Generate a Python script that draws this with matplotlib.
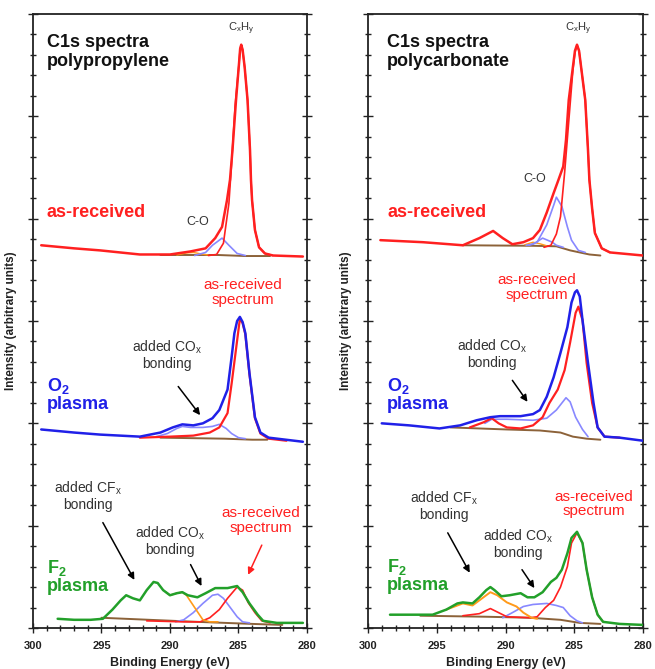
import matplotlib
matplotlib.use('Agg')
import matplotlib.pyplot as plt
from matplotlib.ticker import MultipleLocator, NullFormatter

plt.rcParams['font.family'] = 'Liberation Sans'
plt.rcParams['mathtext.default'] = 'regular'

# ---- data (binding energy in eV, intensity in arbitrary units) ----
xticks = [300, 295, 290, 285, 280]
titles = ['C1s spectra\npolypropylene', 'C1s spectra\npolycarbonate']

# polypropylene, as-received
pp_ar_be = [299.4, 297.0, 295.1, 292.2, 290.0, 288.5, 287.4, 286.7, 286.2, 285.84, 285.62, 285.44, 285.18,
            284.96, 284.88, 284.80, 284.70, 284.55, 284.34, 284.16, 284.09, 284.01, 283.80, 283.50, 283.07, 282.48, 280.3]
pp_ar_i = [3.74, 3.71, 3.69, 3.65, 3.65, 3.68, 3.71, 3.81, 3.92, 4.18, 4.38, 4.67, 5.16,
           5.52, 5.66, 5.70, 5.65, 5.48, 5.16, 4.67, 4.38, 4.18, 3.89, 3.72, 3.66, 3.64, 3.63]
pp_ch_be = [287.2, 286.6, 286.1, 285.7, 285.5, 285.25, 284.96, 284.88, 284.80, 284.70, 284.55, 284.34, 284.16,
            284.09, 284.01, 283.80, 283.50, 283.07, 282.5]
pp_ch_i = [3.64, 3.65, 3.76, 4.15, 4.55, 5.10, 5.52, 5.66, 5.70, 5.65, 5.48, 5.16, 4.67,
           4.38, 4.18, 3.89, 3.72, 3.66, 3.64]
pp_co_be = [288.2, 287.4, 286.9, 286.2, 285.7, 285.1, 284.5]
pp_co_i = [3.64, 3.67, 3.74, 3.81, 3.74, 3.66, 3.64]
pp_or_be = [289.5, 288.8, 288.3, 287.7, 287.2]
pp_or_i = [3.645, 3.665, 3.67, 3.655, 3.645]
pp_bg_be = [290.7, 286.5, 284.5, 282.7]
pp_bg_i = [3.645, 3.645, 3.635, 3.635]

# polypropylene, O2 plasma
pp_o2_be = [299.4, 297.0, 295.1, 292.2, 290.7, 289.8, 289.1, 288.3, 287.6, 286.9, 286.4, 285.8, 285.5, 285.3,
            285.1, 284.9, 284.7, 284.5, 284.2, 283.8, 283.4, 282.8, 280.3]
pp_o2_i = [1.94, 1.91, 1.89, 1.87, 1.91, 1.96, 1.99, 1.98, 2.00, 2.05, 2.13, 2.33, 2.65, 2.88,
           3.00, 3.04, 2.99, 2.88, 2.49, 2.06, 1.91, 1.86, 1.82]
pp_o2_ref_be = [292.2, 290.0, 288.3, 287.1, 286.4, 285.8, 285.5, 285.1, 284.9, 284.7, 284.5, 284.2, 283.8,
                283.4, 282.8, 281.5]
pp_o2_ref_i = [1.86, 1.87, 1.88, 1.91, 1.96, 2.10, 2.39, 2.81, 3.02, 2.98, 2.87, 2.48, 2.05,
               1.90, 1.85, 1.83]
pp_o2_cmp_be = [291.0, 290.2, 289.5, 289.1, 288.5, 287.6, 286.9, 286.4, 285.9, 285.5, 285.0, 284.5]
pp_o2_cmp_i = [1.87, 1.90, 1.95, 1.97, 1.96, 1.96, 1.97, 1.99, 1.95, 1.90, 1.86, 1.85]
pp_o2_bg_be = [290.7, 286.0, 284.0, 282.9]
pp_o2_bg_i = [1.86, 1.85, 1.84, 1.84]

# polypropylene, F2 plasma
pp_f2_be = [298.2, 297.0, 295.8, 294.9, 294.2, 293.6, 293.2, 292.7, 292.2, 291.7, 291.2, 290.9, 290.5, 290.0,
            289.5, 289.1, 288.7, 288.0, 287.4, 286.7, 285.8, 285.1, 284.7, 284.2, 283.6, 283.2, 282.2, 280.3]
pp_f2_i = [0.09, 0.08, 0.08, 0.09, 0.18, 0.27, 0.32, 0.29, 0.27, 0.37, 0.45, 0.44, 0.37, 0.32,
           0.34, 0.35, 0.32, 0.30, 0.34, 0.39, 0.39, 0.41, 0.35, 0.24, 0.13, 0.07, 0.05, 0.05]
pp_f2_or_be = [290.3, 290.0, 289.5, 289.1, 288.8, 288.4, 288.0, 287.6, 287.1, 286.5]
pp_f2_or_i = [0.35, 0.32, 0.34, 0.35, 0.32, 0.24, 0.16, 0.08, 0.06, 0.06]
pp_f2_co_be = [289.6, 289.0, 288.3, 287.6, 286.9, 286.5, 286.1, 285.6, 285.1, 284.7, 284.2]
pp_f2_co_i = [0.06, 0.08, 0.15, 0.24, 0.32, 0.33, 0.29, 0.20, 0.11, 0.06, 0.05]
pp_f2_ref_be = [291.7, 289.0, 287.8, 287.1, 286.4, 285.8, 285.1, 284.7, 284.3, 283.8, 283.3, 282.7]
pp_f2_ref_i = [0.07, 0.06, 0.06, 0.10, 0.18, 0.29, 0.40, 0.37, 0.25, 0.15, 0.07, 0.05]
pp_f2_bg_be = [295.0, 291.5, 288.0, 284.0, 281.8]
pp_f2_bg_i = [0.10, 0.08, 0.06, 0.04, 0.03]

# polycarbonate, as-received
pc_ar_be = [299.1, 296.0, 293.1, 291.9, 290.9, 290.2, 289.5, 288.7, 288.0, 287.5, 287.0, 286.5, 286.2, 285.8,
            285.6, 285.4, 285.1, 284.95, 284.8, 284.65, 284.5, 284.2, 284.0, 283.9, 283.7, 283.5, 283.0, 282.4, 280.0]
pc_ar_i = [3.79, 3.77, 3.74, 3.81, 3.88, 3.81, 3.75, 3.77, 3.81, 3.89, 4.06, 4.25, 4.36, 4.51,
           4.77, 5.16, 5.48, 5.64, 5.70, 5.64, 5.48, 5.16, 4.67, 4.38, 4.10, 3.86, 3.71, 3.67, 3.64]
pc_ch_be = [287.2, 286.7, 286.3, 286.0, 285.7, 285.4, 285.1, 284.95, 284.8, 284.65, 284.5, 284.2, 284.0,
            283.9, 283.7, 283.5, 283.0, 282.4]
pc_ch_i = [3.72, 3.74, 3.85, 4.02, 4.45, 4.95, 5.45, 5.62, 5.70, 5.64, 5.48, 5.16, 4.67,
           4.38, 4.10, 3.86, 3.71, 3.67]
pc_co_be = [288.3, 287.7, 287.0, 286.5, 286.3, 285.9, 285.5, 285.2, 284.7, 284.2]
pc_co_i = [3.74, 3.77, 3.94, 4.13, 4.21, 4.12, 3.92, 3.79, 3.69, 3.67]
pc_co2_be = [288.5, 288.0, 287.3, 286.6, 286.3, 285.8]
pc_co2_i = [3.74, 3.75, 3.81, 3.77, 3.74, 3.72]
pc_or_be = [288.6, 288.0, 287.5, 287.0]
pc_or_i = [3.745, 3.77, 3.755, 3.735]
pc_bg_be = [293.1, 288.0, 286.3, 285.3, 284.6, 283.9, 283.1]
pc_bg_i = [3.74, 3.735, 3.73, 3.69, 3.67, 3.65, 3.64]

# polycarbonate, O2 plasma
pc_o2_be = [299.0, 297.0, 294.8, 293.3, 292.1, 291.1, 290.4, 288.9, 288.0, 287.5, 287.0, 286.5, 286.0, 285.5,
            285.2, 284.95, 284.8, 284.6, 284.4, 284.0, 283.6, 283.3, 282.8, 281.7, 280.0]
pc_o2_i = [2.00, 1.98, 1.95, 1.98, 2.03, 2.06, 2.07, 2.07, 2.09, 2.13, 2.26, 2.45, 2.69, 2.94,
           3.18, 3.28, 3.30, 3.24, 3.01, 2.59, 2.20, 1.96, 1.87, 1.86, 1.83]
pc_o2_ref_be = [292.6, 291.6, 291.0, 290.5, 289.9, 288.9, 288.0, 287.3, 286.8, 286.2, 285.7, 285.3, 284.9,
                284.7, 284.4, 284.1, 283.7, 283.3, 282.8, 281.7]
pc_o2_ref_i = [1.96, 2.01, 2.05, 2.00, 1.96, 1.95, 1.98, 2.06, 2.20, 2.33, 2.52, 2.79, 3.08,
               3.14, 3.01, 2.59, 2.20, 1.96, 1.87, 1.86]
pc_o2_cmp_be = [291.5, 291.0, 289.9, 288.0, 287.0, 286.3, 285.6, 285.3, 284.9, 284.4, 284.0]
pc_o2_cmp_i = [2.00, 2.04, 2.04, 2.03, 2.05, 2.13, 2.25, 2.21, 2.06, 1.94, 1.87]
pc_o2_bg_be = [294.0, 289.9, 287.5, 286.0, 285.1, 284.1, 283.1]
pc_o2_bg_i = [1.96, 1.94, 1.93, 1.91, 1.87, 1.85, 1.84]

# polycarbonate, F2 plasma
pc_f2_be = [298.4, 296.2, 295.3, 294.3, 293.5, 293.1, 292.4, 291.9, 291.4, 291.1, 290.8, 290.3, 289.7, 288.9,
            288.4, 287.9, 287.3, 286.7, 286.3, 285.9, 285.5, 285.2, 284.8, 284.4, 284.1, 283.7, 283.3, 282.9,
            281.7, 280.0]
pc_f2_i = [0.13, 0.13, 0.13, 0.18, 0.24, 0.25, 0.24, 0.30, 0.37, 0.40, 0.37, 0.31, 0.32, 0.34,
           0.30, 0.30, 0.35, 0.45, 0.49, 0.57, 0.73, 0.88, 0.94, 0.83, 0.57, 0.30, 0.13, 0.06,
           0.04, 0.03]
pc_f2_or_be = [294.3, 293.5, 293.1, 292.4, 291.9, 291.1, 290.6, 289.9, 289.2, 288.7, 288.1, 287.7]
pc_f2_or_i = [0.18, 0.22, 0.24, 0.22, 0.27, 0.35, 0.32, 0.25, 0.21, 0.15, 0.10, 0.09]
pc_f2_ref_be = [293.1, 291.9, 291.1, 290.5, 289.9, 288.2, 287.7, 287.1, 286.5, 286.0, 285.5, 285.2, 284.8,
                284.4, 284.1, 283.7, 283.3, 282.9]
pc_f2_ref_i = [0.12, 0.14, 0.19, 0.15, 0.11, 0.10, 0.11, 0.20, 0.27, 0.40, 0.60, 0.83, 0.93,
               0.83, 0.57, 0.30, 0.13, 0.06]
pc_f2_co_be = [290.2, 289.5, 288.7, 288.0, 287.0, 286.3, 285.8, 285.3, 284.8, 284.4]
pc_f2_co_i = [0.10, 0.15, 0.21, 0.23, 0.24, 0.22, 0.20, 0.12, 0.07, 0.05]
pc_f2_bg_be = [296.2, 291.4, 288.2, 286.0, 284.6, 283.1]
pc_f2_bg_i = [0.12, 0.11, 0.10, 0.08, 0.05, 0.04]

# ---- colours ----
RED = '#ff2020'
BLUE = '#2020e8'
LBLUE = '#8888ff'
GREEN = '#22a02a'
ORANGE = '#ff9a1a'
BROWN = '#8c6239'
GREY = '#333333'

fig = plt.figure(figsize=(6.55, 6.69), dpi=100)
axL = fig.add_axes([33 / 655, 41 / 669, 274 / 655, 614 / 669])
axR = fig.add_axes([368 / 655, 41 / 669, 275 / 655, 614 / 669])


def style(ax):
    ax.set_xlim(300, 280)
    ax.set_ylim(0, 6)
    ax.set_xticks(xticks)
    ax.set_xticklabels([str(t) for t in xticks], fontweight='bold', fontsize=8, color='#222222')
    ax.xaxis.set_minor_locator(MultipleLocator(1))
    ax.yaxis.set_major_locator(MultipleLocator(1))
    ax.yaxis.set_minor_locator(MultipleLocator(0.2))
    ax.yaxis.set_major_formatter(NullFormatter())
    ax.tick_params(axis='both', which='both', direction='inout', left=True, right=True,
                   color='#222222', width=1)
    ax.tick_params(axis='both', which='major', length=7, pad=6)
    ax.tick_params(axis='both', which='minor', length=4)
    for s in ax.spines.values():
        s.set_linewidth(1.3)
        s.set_color('#222222')
    ax.set_xlabel('Binding Energy (eV)', fontsize=9, fontweight='bold', color='#222222')
    ax.set_ylabel('Intensity (arbitrary units)', fontsize=8.5, fontweight='bold', color='#222222')
    ax.xaxis.set_label_coords(0.5, -0.047)
    ax.yaxis.set_label_coords(-0.058, 0.5)


def line(ax, x, y, c, lw, z):
    ax.plot(x, y, color=c, lw=lw, zorder=z, solid_joinstyle='round', solid_capstyle='round')


def arrow(ax, x0, y0, x1, y1, c='black'):
    ax.annotate('', xy=(x1, y1), xytext=(x0, y0),
                arrowprops=dict(arrowstyle='-|>', color=c, lw=1.1, mutation_scale=10, shrinkA=0, shrinkB=0))


# ---------- polypropylene ----------
ax = axL
style(ax)
line(ax, pp_bg_be, pp_bg_i, BROWN, 1.4, 2)
line(ax, pp_or_be, pp_or_i, ORANGE, 1.0, 3)
line(ax, pp_co_be, pp_co_i, LBLUE, 1.2, 3)
line(ax, pp_ch_be, pp_ch_i, RED, 1.2, 3)
line(ax, pp_ar_be, pp_ar_i, RED, 1.8, 4)

line(ax, pp_o2_bg_be, pp_o2_bg_i, BROWN, 1.4, 2)
line(ax, pp_o2_cmp_be, pp_o2_cmp_i, LBLUE, 1.2, 3)
line(ax, pp_o2_ref_be, pp_o2_ref_i, RED, 1.6, 3)
line(ax, pp_o2_be, pp_o2_i, BLUE, 1.8, 4)

line(ax, pp_f2_bg_be, pp_f2_bg_i, BROWN, 1.4, 2)
line(ax, pp_f2_co_be, pp_f2_co_i, LBLUE, 1.2, 3)
line(ax, pp_f2_ref_be, pp_f2_ref_i, RED, 1.2, 3)
line(ax, pp_f2_or_be, pp_f2_or_i, ORANGE, 1.2, 3)
line(ax, pp_f2_be, pp_f2_i, GREEN, 1.8, 4)

ax.text(299.0, 5.63, titles[0], fontsize=13, fontweight='bold', color='#111111', ha='left', va='center',
        linespacing=1.15)
ax.text(284.8, 5.86, 'C$_x$H$_y$', fontsize=8, color=GREY, ha='center', va='center')
ax.text(288.0, 3.97, 'C-O', fontsize=9, color=GREY, ha='center', va='center')
ax.text(299.0, 4.06, 'as-received', fontsize=13, fontweight='bold', color=RED, ha='left', va='center')
ax.text(284.7, 3.28, 'as-received\nspectrum', fontsize=11, color=RED, ha='center', va='center', linespacing=1.05)
ax.text(290.2, 2.67, 'added CO$_x$\nbonding', fontsize=10, color=GREY, ha='center', va='center', linespacing=1.1)
arrow(ax, 289.4, 2.36, 287.8, 2.08)
ax.text(299.0, 2.28, 'O$_2$\nplasma', fontsize=13, fontweight='bold', color=BLUE, ha='left', va='center',
        linespacing=1.0)
ax.text(296.0, 1.29, 'added CF$_x$\nbonding', fontsize=10, color=GREY, ha='center', va='center', linespacing=1.1)
arrow(ax, 294.9, 1.03, 292.6, 0.47)
ax.text(290.0, 0.85, 'added CO$_x$\nbonding', fontsize=10, color=GREY, ha='center', va='center', linespacing=1.1)
arrow(ax, 288.5, 0.62, 287.7, 0.41)
ax.text(283.4, 1.05, 'as-received\nspectrum', fontsize=11, color=RED, ha='center', va='center', linespacing=1.05)
arrow(ax, 283.3, 0.81, 284.3, 0.52, RED)
ax.text(299.0, 0.50, 'F$_2$\nplasma', fontsize=13, fontweight='bold', color=GREEN, ha='left', va='center',
        linespacing=1.0)

# ---------- polycarbonate ----------
ax = axR
style(ax)
line(ax, pc_bg_be, pc_bg_i, BROWN, 1.4, 2)
line(ax, pc_or_be, pc_or_i, ORANGE, 1.0, 3)
line(ax, pc_co2_be, pc_co2_i, LBLUE, 1.2, 3)
line(ax, pc_co_be, pc_co_i, LBLUE, 1.2, 3)
line(ax, pc_ch_be, pc_ch_i, RED, 1.2, 3)
line(ax, pc_ar_be, pc_ar_i, RED, 1.8, 4)

line(ax, pc_o2_bg_be, pc_o2_bg_i, BROWN, 1.4, 2)
line(ax, pc_o2_cmp_be, pc_o2_cmp_i, LBLUE, 1.2, 3)
line(ax, pc_o2_ref_be, pc_o2_ref_i, RED, 1.6, 3)
line(ax, pc_o2_be, pc_o2_i, BLUE, 1.8, 4)

line(ax, pc_f2_bg_be, pc_f2_bg_i, BROWN, 1.4, 2)
line(ax, pc_f2_co_be, pc_f2_co_i, LBLUE, 1.2, 3)
line(ax, pc_f2_ref_be, pc_f2_ref_i, RED, 1.2, 3)
line(ax, pc_f2_or_be, pc_f2_or_i, ORANGE, 1.4, 3)
line(ax, pc_f2_be, pc_f2_i, GREEN, 1.8, 4)

ax.text(298.6, 5.63, titles[1], fontsize=13, fontweight='bold', color='#111111', ha='left', va='center',
        linespacing=1.15)
ax.text(284.7, 5.86, 'C$_x$H$_y$', fontsize=8, color=GREY, ha='center', va='center')
ax.text(287.9, 4.39, 'C-O', fontsize=9, color=GREY, ha='center', va='center')
ax.text(298.6, 4.06, 'as-received', fontsize=13, fontweight='bold', color=RED, ha='left', va='center')
ax.text(287.7, 3.33, 'as-received\nspectrum', fontsize=11, color=RED, ha='center', va='center', linespacing=1.05)
ax.text(291.0, 2.68, 'added CO$_x$\nbonding', fontsize=10, color=GREY, ha='center', va='center', linespacing=1.1)
arrow(ax, 289.5, 2.42, 288.4, 2.21)
ax.text(298.6, 2.28, 'O$_2$\nplasma', fontsize=13, fontweight='bold', color=BLUE, ha='left', va='center',
        linespacing=1.0)
ax.text(294.5, 1.19, 'added CF$_x$\nbonding', fontsize=10, color=GREY, ha='center', va='center', linespacing=1.1)
arrow(ax, 294.2, 0.93, 292.6, 0.54)
ax.text(289.1, 0.82, 'added CO$_x$\nbonding', fontsize=10, color=GREY, ha='center', va='center', linespacing=1.1)
arrow(ax, 288.8, 0.57, 287.9, 0.39)
ax.text(283.6, 1.21, 'as-received\nspectrum', fontsize=11, color=RED, ha='center', va='center', linespacing=1.05)
ax.text(298.6, 0.51, 'F$_2$\nplasma', fontsize=13, fontweight='bold', color=GREEN, ha='left', va='center',
        linespacing=1.0)

fig.savefig('out.png', dpi=100)
